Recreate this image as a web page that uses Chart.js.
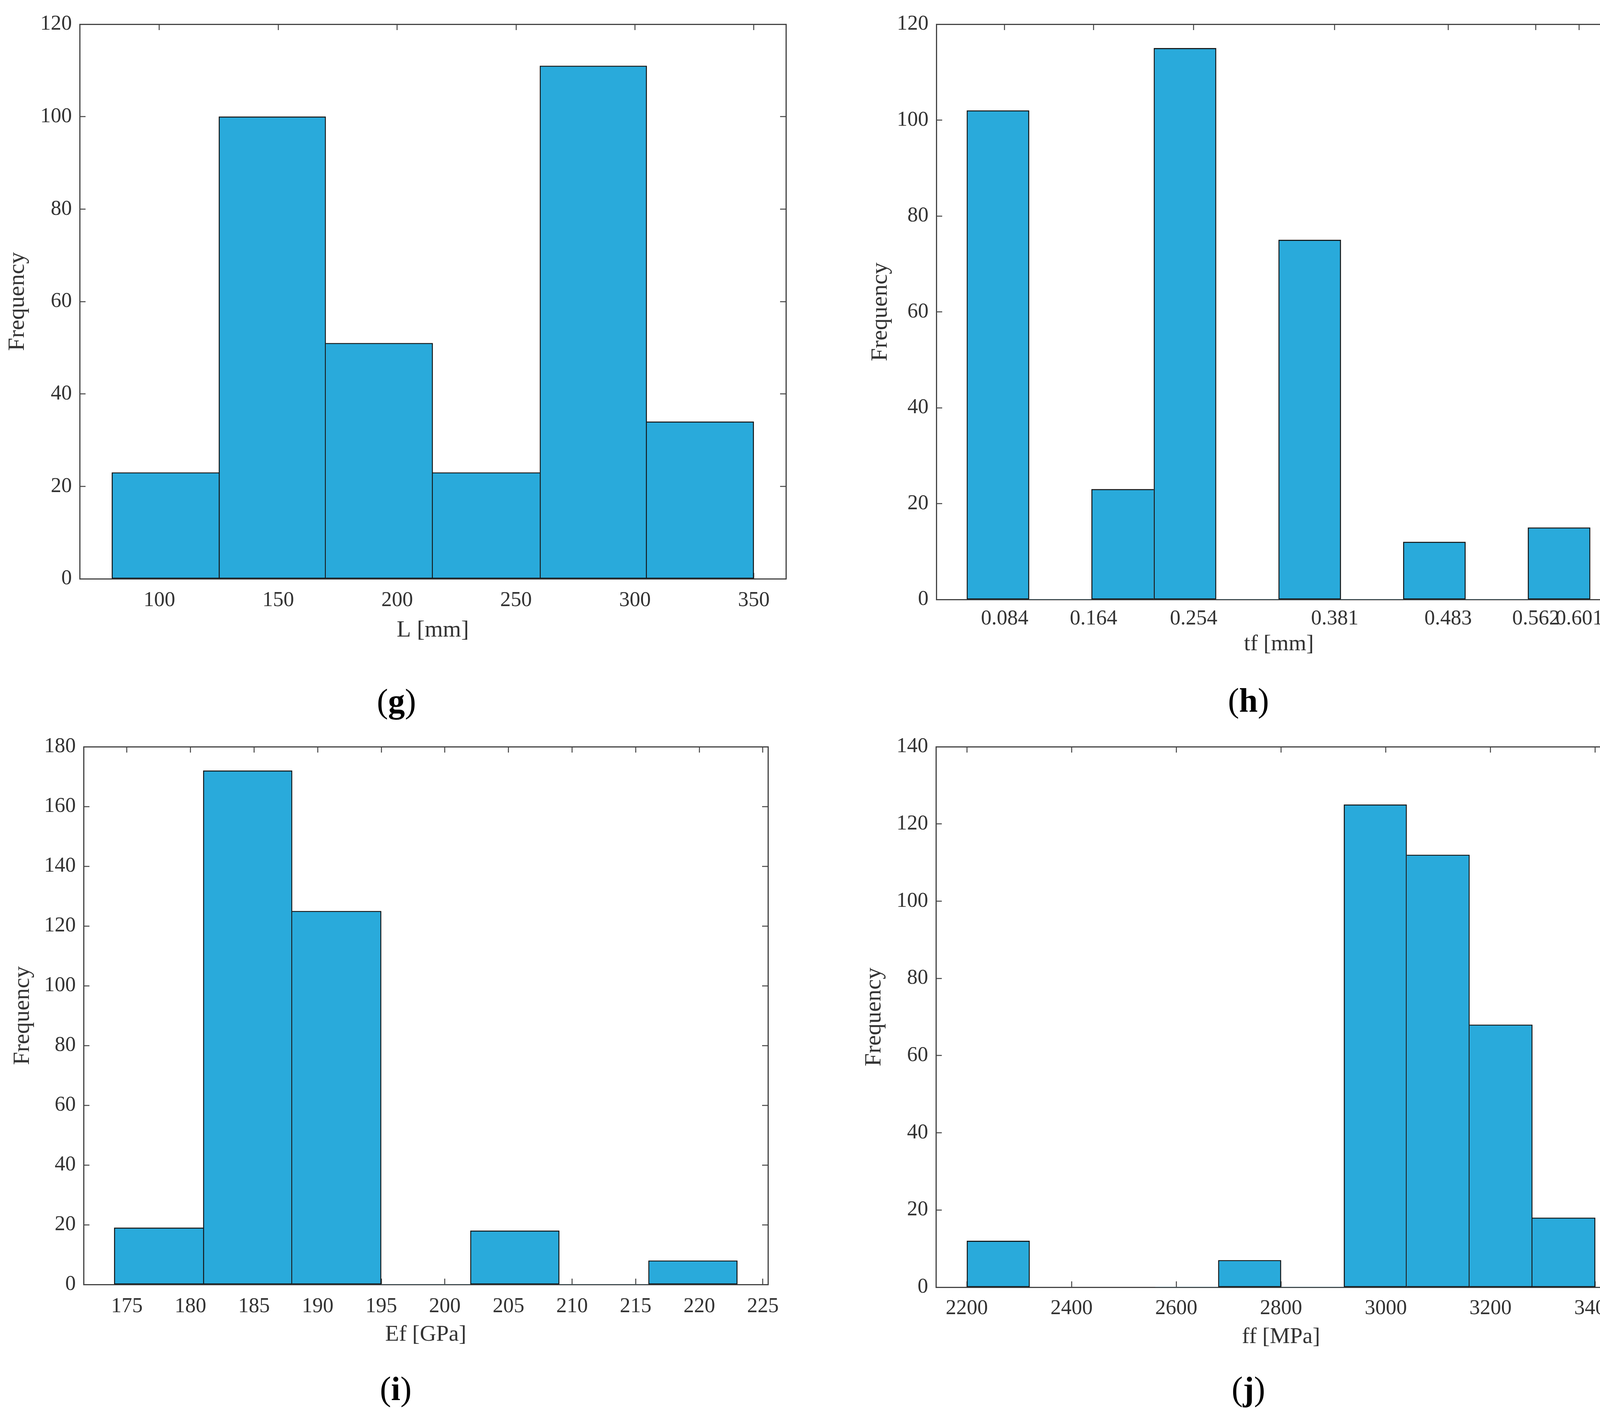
<!DOCTYPE html>
<html>
<head>
<meta charset="utf-8">
<script src="https://cdn.jsdelivr.net/npm/chart.js@4.4.1/dist/chart.umd.min.js"></script>
<style>
html,body{margin:0;padding:0;background:#fff;}
body{width:4201px;height:3636px;position:relative;overflow:hidden;}
canvas{position:absolute;}
.lab{position:absolute;font-family:'Liberation Serif','Times New Roman',serif;font-size:86px;line-height:1;color:#000;transform:translateX(-50%);white-space:nowrap;}
</style>
</head>
<body>
<canvas id="cg" width="2100" height="1700" style="left:0px;top:0px;width:2100px;height:1700px;"></canvas>
<canvas id="ch" width="2101" height="1720" style="left:2100px;top:0px;width:2101px;height:1720px;"></canvas>
<canvas id="ci" width="2100" height="1650" style="left:0px;top:1850px;width:2100px;height:1650px;"></canvas>
<canvas id="cj" width="2101" height="1650" style="left:2100px;top:1850px;width:2101px;height:1650px;"></canvas>
<div class="lab" style="left:1015px;top:1752px;">(<b>g</b>)</div>
<div class="lab" style="left:3196px;top:1750px;">(<b>h</b>)</div>
<div class="lab" style="left:1013px;top:3513px;">(<b>i</b>)</div>
<div class="lab" style="left:3196px;top:3513px;">(<b>j</b>)</div>
<script>
// ---------- data ----------
// (g) L [mm]
const G_EDGES  = [80, 125, 170, 215, 260, 305, 350];
const G_COUNTS = [23, 100, 51, 23, 111, 34];
const G_XTICKS = [100, 150, 200, 250, 300, 350];
const G_YTICKS = [0, 20, 40, 60, 80, 100, 120];

// (h) tf [mm]
const H_EDGES  = [0.0499, 0.1060, 0.1621, 0.2182, 0.2743, 0.3304, 0.3865, 0.4426, 0.4987, 0.5548, 0.6109];
const H_COUNTS = [102, 0, 23, 115, 0, 75, 0, 12, 0, 15];
const H_XTICKS = [0.084, 0.164, 0.254, 0.381, 0.483, 0.562, 0.601];
const H_YTICKS = [0, 20, 40, 60, 80, 100, 120];

// (i) Ef [GPa]
const I_EDGES  = [174, 181, 188, 195, 202, 209, 216, 223];
const I_COUNTS = [19, 172, 125, 0, 18, 0, 8];
const I_XTICKS = [175, 180, 185, 190, 195, 200, 205, 210, 215, 220, 225];
const I_YTICKS = [0, 20, 40, 60, 80, 100, 120, 140, 160, 180];

// (j) ff [MPa]
const J_EDGES  = [2200, 2320, 2440, 2560, 2680, 2800, 2920, 3040, 3160, 3280, 3400];
const J_COUNTS = [12, 0, 0, 0, 7, 0, 125, 112, 68, 18];
const J_XTICKS = [2200, 2400, 2600, 2800, 3000, 3200, 3400];
const J_YTICKS = [0, 20, 40, 60, 80, 100, 120, 140];

// ---------- styling ----------
const FONT = "'Liberation Serif', 'Times New Roman', serif";
const FILL = '#29aadb';
const EDGE = '#141414';
const AX   = '#444444';
const TXT  = '#333333';
const EW   = 2.6;

function makeHist(id, d, L) {
  const centers = d.edges.slice(0, -1).map((e, i) => (e + d.edges[i + 1]) / 2);
  const c = d.counts;
  const setTicks = vals => s => { s.ticks = vals.map(v => ({ value: v })); };
  const grid = { display: true, drawOnChartArea: false, drawTicks: true, tickLength: -15,
                 tickWidth: 2.5, tickColor: AX, offset: false };
  const border = { display: true, color: AX, width: 3 };
  const tickFont = { family: FONT, size: 54, lineHeight: 1 };
  // a shared edge between two adjacent bars is drawn once, by the taller bar
  const edgeWidth = ctx => {
    const i = ctx.dataIndex;
    const prev = i > 0 ? c[i - 1] : 0;
    const next = i < c.length - 1 ? c[i + 1] : 0;
    return { top: EW, bottom: EW, left: c[i] > prev ? EW : 0, right: c[i] >= next ? EW : 0 };
  };
  new Chart(document.getElementById(id), {
    type: 'bar',
    data: { datasets: [{
      data: centers.map((x, i) => ({ x: x, y: c[i] })),
      xAxisID: 'xb', yAxisID: 'y',
      backgroundColor: FILL, borderColor: EDGE, borderWidth: edgeWidth, borderSkipped: false,
      categoryPercentage: 1, barPercentage: 1
    }] },
    options: {
      responsive: false, animation: false, devicePixelRatio: 1,
      layout: { padding: 0 },
      plugins: { legend: { display: false }, tooltip: { enabled: false }, title: { display: false } },
      scales: {
        xb: { type: 'linear', axis: 'x', display: false, min: d.xmin, max: d.xmax, offset: false,
              grid: { offset: false }, afterBuildTicks: setTicks(centers) },
        x: { type: 'linear', axis: 'x', position: 'bottom', min: d.xmin, max: d.xmax, offset: false, z: 1,
             grid: grid, border: border,
             ticks: { autoSkip: false, maxRotation: 0, minRotation: 0, padding: L.xpad, color: TXT,
                      font: tickFont, callback: d.fmt },
             afterBuildTicks: setTicks(d.xticks),
             title: { display: true, text: d.xtitle, color: TXT,
                      font: { family: FONT, size: L.xtSize, lineHeight: 1 },
                      padding: { top: 0, bottom: L.xtPad } },
             afterFit: s => { s.height = L.h - L.bottom; } },
        x2: { type: 'linear', axis: 'x', position: 'top', min: d.xmin, max: d.xmax, offset: false, z: 1,
              grid: grid, border: border, ticks: { display: false },
              afterBuildTicks: setTicks(d.xticks),
              afterFit: s => { s.height = L.top; } },
        y: { type: 'linear', axis: 'y', position: 'left', min: 0, max: d.ymax, z: 1,
             grid: grid, border: border,
             ticks: { padding: 35, color: TXT, font: tickFont, callback: v => String(v) },
             afterBuildTicks: setTicks(d.yticks),
             title: { display: true, text: 'Frequency', color: TXT,
                      font: { family: FONT, size: 60, lineHeight: 1 },
                      padding: { top: L.ytPad, bottom: 0 } },
             afterFit: s => { s.width = L.left; } },
        y2: { type: 'linear', axis: 'y', position: 'right', min: 0, max: d.ymax, z: 1,
              grid: grid, border: border, ticks: { display: false },
              afterBuildTicks: setTicks(d.yticks),
              afterFit: s => { s.width = L.w - L.right; } }
      }
    }
  });
}

makeHist('cg',
  { edges: G_EDGES, counts: G_COUNTS, xticks: G_XTICKS, yticks: G_YTICKS, xmin: 66.5, xmax: 363.5, ymax: 120,
    xtitle: 'L [mm]', fmt: v => String(v) },
  { w: 2100, h: 1700, left: 204, right: 2012, top: 54, bottom: 1482, xpad: 44, xtSize: 60, xtPad: 56, ytPad: 15 });

makeHist('ch',
  { edges: H_EDGES, counts: H_COUNTS, xticks: H_XTICKS, yticks: H_YTICKS, xmin: 0.0225, xmax: 0.639, ymax: 120,
    xtitle: 'tf [mm]', fmt: v => v.toFixed(3) },
  { w: 2101, h: 1720, left: 297, right: 2051, top: 38, bottom: 1535, xpad: 38, xtSize: 58, xtPad: 41, ytPad: 124 });

makeHist('ci',
  { edges: I_EDGES, counts: I_COUNTS, xticks: I_XTICKS, yticks: I_YTICKS, xmin: 171.6, xmax: 225.4, ymax: 180,
    xtitle: 'Ef [GPa]', fmt: v => String(v) },
  { w: 2100, h: 1650, left: 214, right: 1966, top: 59, bottom: 1439, xpad: 45, xtSize: 58, xtPad: 53, ytPad: 28 });

makeHist('cj',
  { edges: J_EDGES, counts: J_COUNTS, xticks: J_XTICKS, yticks: J_YTICKS, xmin: 2141, xmax: 3459, ymax: 140,
    xtitle: 'ff [MPa]', fmt: v => String(v) },
  { w: 2101, h: 1650, left: 296, right: 2063, top: 52, bottom: 1446, xpad: 43, xtSize: 58, xtPad: 47, ytPad: 108 });
</script>
</body>
</html>
